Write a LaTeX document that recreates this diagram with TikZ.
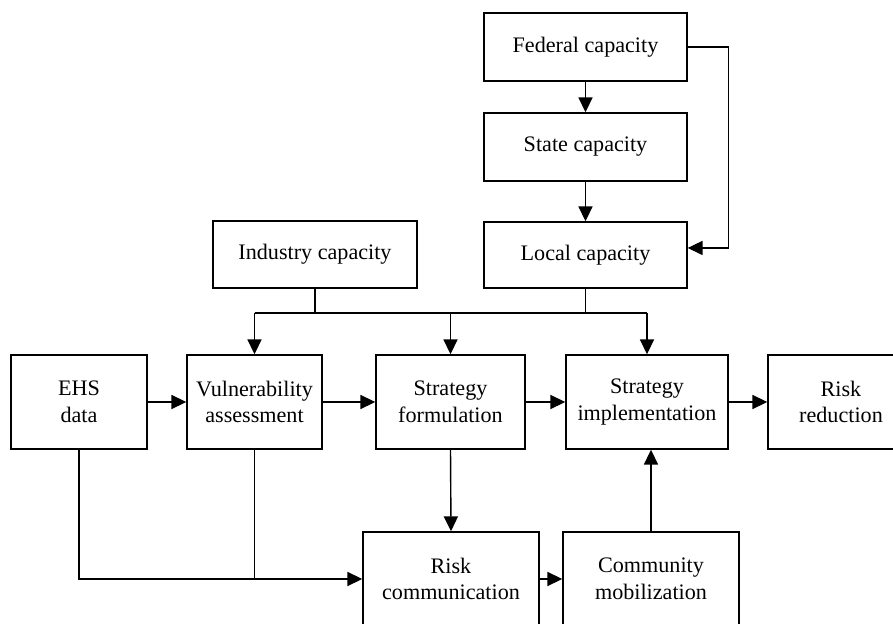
\documentclass[tikz,border=0pt]{standalone}
\usepackage{fontspec}
\setmainfont{Liberation Serif}
\usetikzlibrary{positioning, calc, arrows.meta}

\begin{document}
\begin{tikzpicture}[x=0.02cm, y=-0.02cm, line width=0.8pt,
    box/.style={draw, rectangle, align=center, inner sep=0pt,
        font=\fontsize{12.6}{15.1}\selectfont},
    arr/.style={-{Triangle[length=8.5pt,width=8pt]}}]

        \useasboundingbox (0,0) rectangle (893,624);

        % ===================================================
        % 1. CAPACITY CHAIN (top right)
        % ===================================================
        \node[box, minimum width=203*0.02cm, minimum height=68*0.02cm] (fed) at (585.5, 47) {Federal capacity};
        \node[box, minimum width=203*0.02cm, minimum height=68*0.02cm] (state) at (585.5, 147) {State capacity};
        \node[box, minimum width=203*0.02cm, minimum height=66*0.02cm] (loc) at (585.5, 255) {Local capacity};
        \node[box, minimum width=204*0.02cm, minimum height=67*0.02cm] (ind) at (315, 254.5) {Industry capacity};

        \draw[arr] (fed.south) -- (state.north);
        \draw[arr] (state.south) -- (loc.north);
        \draw[arr] (fed.east) -- ++(41,0) |- ([yshift=4pt]loc.east);

        % ===================================================
        % 2. MAIN ROW
        % ===================================================
        \node[box, minimum width=136*0.02cm, minimum height=94*0.02cm] (ehs) at (79, 402) {EHS\\data};
        \node[box, minimum width=135*0.02cm, minimum height=94*0.02cm] (vul) at (254.5, 402) {Vulnerability\\assessment};
        \node[box, minimum width=149*0.02cm, minimum height=94*0.02cm] (sf) at (450.5, 402) {Strategy\\formulation};
        \node[box, minimum width=162*0.02cm, minimum height=94*0.02cm] (si) at (647, 402) {Strategy\\implementation};
        \node[box, minimum width=146*0.02cm, minimum height=94*0.02cm] (rr) at (841, 402) {Risk\\reduction};

        \draw[arr] (ehs.east) -- (vul.west);
        \draw[arr] (vul.east) -- (sf.west);
        \draw[arr] (sf.east) -- (si.west);
        \draw[arr] (si.east) -- (rr.west);

        % Capacity bus feeding the main row
        \coordinate (busL) at (254.5, 313);
        \coordinate (busR) at (647, 313);
        \draw (busL) -- (busR);
        \draw (ind.south) -- (ind.south |- busL);
        \draw (loc.south) -- (loc.south |- busL);
        \draw[arr] (busL) -- (vul.north);
        \draw[arr] (sf.north |- busL) -- (sf.north);
        \draw[arr] (busR) -- (si.north);

        % ===================================================
        % 3. COMMUNICATION ROW (bottom)
        % ===================================================
        \node[box, minimum width=176*0.02cm, minimum height=94*0.02cm] (rc) at (451, 579) {Risk\\communication};
        \node[box, minimum width=176*0.02cm, minimum height=94*0.02cm] (cm) at (651, 579) {Community\\mobilization};

        \coordinate (feed) at (254.5, 579);
        \draw (ehs.south) |- (feed);
        \draw (vul.south) -- (feed);
        \draw[arr] (feed) -- (rc.west);
        \draw[arr] (sf.south) -- (rc.north);
        \draw[arr] (rc.east) -- (cm.west);
        \draw[arr] (cm.north) -- (cm.north |- si.south);

\end{tikzpicture}
\end{document}
